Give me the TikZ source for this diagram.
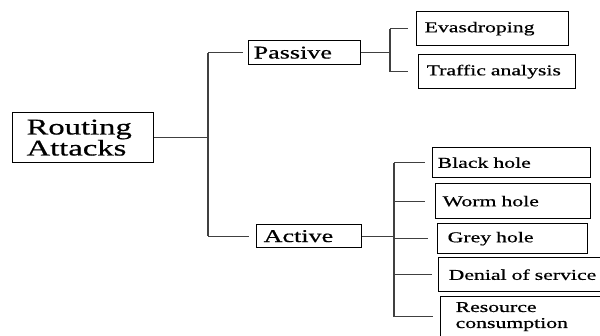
\documentclass[tikz,border=0pt]{standalone}
\usepackage{fontspec}
\newfontfamily\diagfont[FakeStretch=1.45,FakeBold=0.6]{Liberation Serif}
\begin{document}
\begin{tikzpicture}[x=1pt,y=-1pt,
  box/.style={draw=black, line width=1.3pt, anchor=north west, align=left, inner ysep=0pt, font=\diagfont},
  conn/.style={draw=black!75, line width=1.1pt},
  big/.style={font=\diagfont\fontsize{22.5}{21}\selectfont},
  mid/.style={font=\diagfont\fontsize{18}{18}\selectfont},
  small/.style={font=\diagfont\fontsize{15}{16}\selectfont}]
\useasboundingbox (0,0) rectangle (600,335);
\fill[white] (0,0) rectangle (600,335);
% nodes
\node[box,big,text width=113pt,inner xsep=14pt,minimum height=50pt] (RA) at (12,112) {Routing\\Attacks};
\node[box,mid,text width=102pt,inner xsep=5pt,minimum height=24pt] (PA) at (248,40) {Passive};
\node[box,mid,text width=91pt,inner xsep=7pt,minimum height=23pt] (AC) at (256,224) {Active};
\node[box,small,text width=136pt,inner xsep=8pt,minimum height=34pt] (EV) at (416,11) {Evasdroping};
\node[box,small,text width=141pt,inner xsep=8pt,minimum height=34pt] (TR) at (418,54) {Traffic analysis};
\node[box,small,text width=148pt,inner xsep=5pt,minimum height=30pt] (BH) at (432,147) {Black hole};
\node[box,small,text width=141pt,inner xsep=7pt,minimum height=35pt] (WH) at (435,183) {Worm hole};
\node[box,small,text width=130pt,inner xsep=10pt,minimum height=30pt] (GH) at (437,223) {Grey hole};
\node[box,small,text width=160pt,inner xsep=10pt,minimum height=34pt] (DS) at (438,257) {Denial of service};
\node[box,small,text width=150pt,inner xsep=15pt,minimum height=40pt] (RC) at (440,296) {Resource\\consumption};
% trunks
\coordinate (t1) at (208,0);
\coordinate (t2) at (390,0);
\coordinate (t3) at (394,0);
% root to level 1
\draw[conn] (RA.east) -- (RA.east -| t1);
\draw[conn] (t1 |- PA.west) -- (t1 |- AC.west);
\draw[conn] (t1 |- PA.west) -- ([xshift=-5pt]PA.west);
\draw[conn] (t1 |- AC.west) -- ([xshift=-7pt]AC.west);
% passive children
\draw[conn] (PA.east) -- (PA.east -| t2);
\draw[conn] (t2 |- EV.west) -- (t2 |- TR.west);
\draw[conn] (t2 |- EV.west) -- ([xshift=-8pt]EV.west);
\draw[conn] (t2 |- TR.west) -- ([xshift=-10pt]TR.west);
% active children
\draw[conn] (AC.east) -- (AC.east -| t3);
\draw[conn] (t3 |- BH.west) -- (t3 |- RC.west);
\draw[conn] (t3 |- BH.west) -- ([xshift=-7pt]BH.west);
\draw[conn] (t3 |- WH.west) -- ([xshift=-10pt]WH.west);
\draw[conn] (t3 |- GH.west) -- ([xshift=-9pt]GH.west);
\draw[conn] (t3 |- DS.west) -- ([xshift=-6pt]DS.west);
\draw[conn] (t3 |- RC.west) -- ([xshift=-7pt]RC.west);
\end{tikzpicture}
\end{document}
